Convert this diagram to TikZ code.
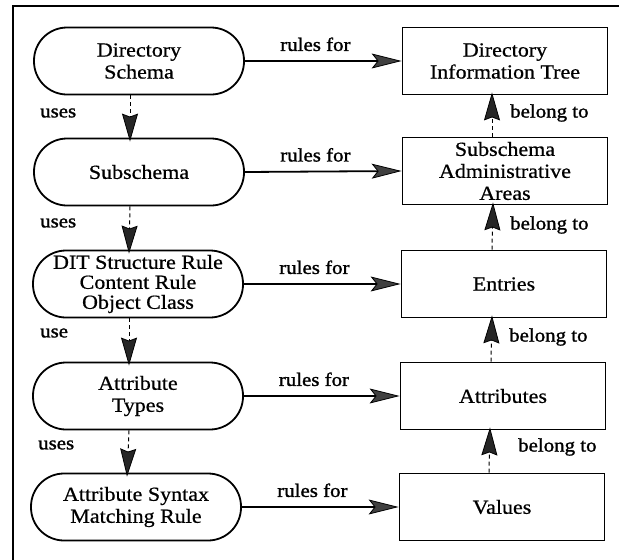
\documentclass[tikz,border=0pt]{standalone}
\usepackage{fontspec}
\setmainfont[FakeStretch=1.1,FakeBold=0.7]{Liberation Serif}
\newfontfamily\labelfont[FakeStretch=1.1,FakeBold=1.4]{Liberation Serif}
\usetikzlibrary{arrows.meta}
\begin{document}
\begin{tikzpicture}[x=1pt,y=-1pt,
  txt/.style={font=\fontsize{20}{22}\selectfont},
  schemabox/.style={txt, draw, line width=1.8pt, rounded corners=33pt,
    minimum width=210pt, minimum height=67pt, align=center, inner sep=0pt},
  treebox/.style={txt, draw, line width=1.8pt,
    minimum width=205pt, minimum height=67pt, align=center, inner sep=0pt},
  rulesfor/.style={draw, line width=1.8pt,
    -{Stealth[length=30pt,width=15pt,inset=6pt,line width=0.8pt,fill=black!75]}},
  relarrow/.style={draw, line width=1pt, dash pattern=on 4pt off 3pt,
    -{Stealth[length=28pt,width=16pt,inset=3pt,line width=0.8pt,fill=black!85]}},
  lbl/.style={font=\labelfont\fontsize{19}{22}\selectfont, inner sep=0pt}
]
\useasboundingbox (0,0) rectangle (619,560);

% frame (top and left edges)
\draw[line width=2.4pt] (13,560) -- (13,6) -- (619,6);

% schema side
\node[schemabox] (ds)  at (139,61)  {Directory\\Schema};
\node[schemabox] (ss)  at (139,172) {Subschema};
\node[schemabox, font=\fontsize{20}{20}\selectfont] (dit) at (138,284) {DIT Structure Rule\\Content Rule\\Object Class};
\node[schemabox] (at)  at (138,396) {Attribute\\Types};
\node[schemabox] (as)  at (136,507) {Attribute Syntax\\Matching Rule};

% directory side
\node[treebox] (tree) at (505,61)  {Directory\\Information Tree};
\node[treebox] (saa)  at (505,171) {Subschema\\Administrative\\Areas};
\node[treebox] (ent)  at (504,284) {Entries};
\node[treebox] (atr)  at (503,396) {Attributes};
\node[treebox] (val)  at (502,507) {Values};

% rules for
\foreach \a/\b in {ds/tree, ss/saa, dit/ent, at/atr, as/val}{
  \draw[rulesfor] (\a.east) -- (\b.west)
    node[lbl, pos=0.45, above=9pt] {rules for};
}

% uses
\draw[relarrow] ([xshift=-9pt]ds.south) -- ([xshift=-9pt,yshift=-4pt]ss.north);
\draw[relarrow] ([xshift=-9pt]ss.south) -- ([xshift=-9pt,yshift=-4pt]dit.north);
\draw[relarrow] ([xshift=-9pt]dit.south) -- ([xshift=-9pt,yshift=-4pt]at.north);
\draw[relarrow] ([xshift=-9pt]at.south) -- ([xshift=-9pt,yshift=-4pt]as.north);
\node[lbl, anchor=west] (u1) at (40,113) {uses};
\node[lbl, anchor=west] (u2) at (40,223) {uses};
\node[lbl, anchor=west] (u3) at (40,333) {use};
\node[lbl, anchor=west] (u4) at (38,445) {uses};

% belong to
\draw[relarrow] ([xshift=-13pt]saa.north) -- ([xshift=-13pt,yshift=3pt]tree.south);
\draw[relarrow] ([xshift=-12pt]ent.north) -- ([xshift=-12pt,yshift=3pt]saa.south);
\draw[relarrow] ([xshift=-12pt]atr.north) -- ([xshift=-12pt,yshift=3pt]ent.south);
\draw[relarrow] ([xshift=-13pt]val.north) -- ([xshift=-13pt,yshift=3pt]atr.south);
\node[lbl, anchor=west] (b1) at (510,113) {belong to};
\node[lbl, anchor=west] (b2) at (510,225) {belong to};
\node[lbl, anchor=west] (b3) at (509,337) {belong to};
\node[lbl, anchor=west] (b4) at (518,447) {belong to};
\end{tikzpicture}
\end{document}
